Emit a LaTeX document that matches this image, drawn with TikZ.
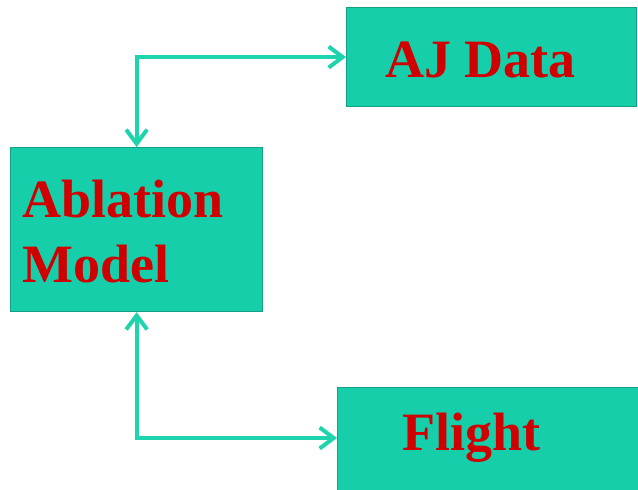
\documentclass[tikz,border=0pt]{standalone}
\usepackage{fontspec}
\setmainfont{Liberation Serif}
\usetikzlibrary{arrows.meta,calc}
\definecolor{boxfill}{RGB}{22,206,170}
\definecolor{boxline}{RGB}{20,160,132}
\definecolor{connc}{RGB}{30,212,172}
\definecolor{txtc}{RGB}{208,0,0}
\begin{document}
\begin{tikzpicture}[x=1pt,y=-1pt,
  box/.style={draw=boxline, line width=1.2pt, fill=boxfill, inner sep=0pt, anchor=north west},
  lbl/.style={text=txtc, font=\fontsize{54}{65}\selectfont\bfseries, inner sep=0pt, anchor=base west},
  barb/.tip={Straight Barb[length=14pt,width=21pt]},
  link/.style={draw=connc, line width=4pt, barb-barb}]
\useasboundingbox (0,0) rectangle (638,490);
\node[box, minimum width=290pt, minimum height=99pt] (aj) at (346,7) {};
\node[box, minimum width=252pt, minimum height=164pt] (abl) at (10,147) {};
\node[box, minimum width=310pt, minimum height=110pt] (fl) at (337,387) {};
\node[lbl] (ajt) at (385,77) {AJ Data};
\node[lbl] (ablt1) at (22,217) {Ablation};
\node[lbl] (ablt2) at (22,282) {Model};
\node[lbl] (flt) at (402,450) {Flight};
\coordinate (flin) at ($(fl.north west)+(0,51)$);
\draw[link] (abl.north) |- (aj.west);
\draw[link] (abl.south) |- (flin);
\end{tikzpicture}
\end{document}
